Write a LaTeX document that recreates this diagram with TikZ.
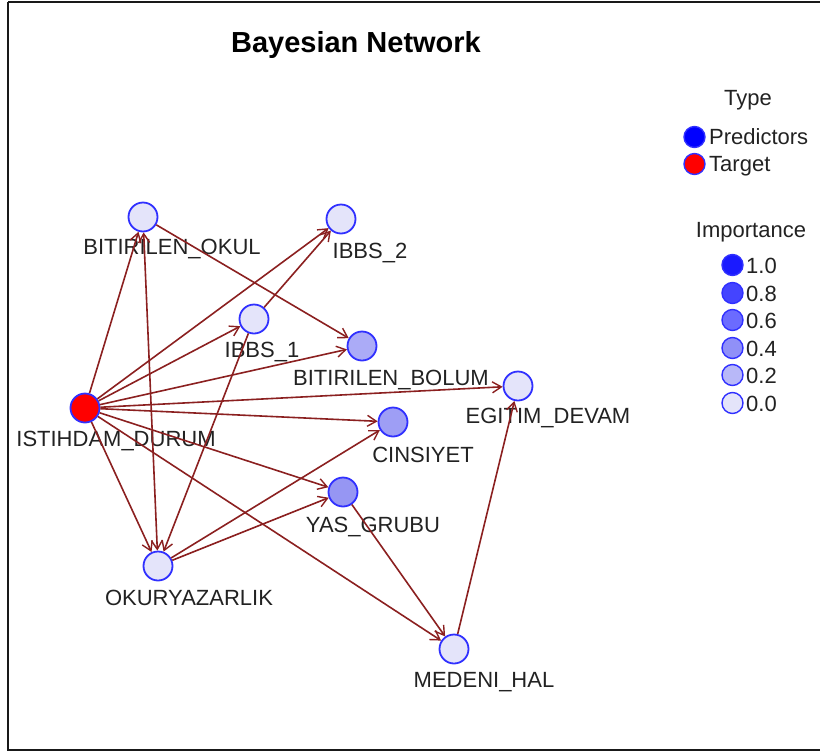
\documentclass[tikz,border=0pt]{standalone}
\usepackage{fontspec}
\setmainfont{Liberation Sans}
\usetikzlibrary{arrows.meta}
\definecolor{edgecol}{HTML}{8B2020}
\definecolor{nodeborder}{HTML}{3030FF}
\definecolor{imp0}{HTML}{E4E4FA}
\definecolor{imp2}{HTML}{B8B8F8}
\definecolor{imp4}{HTML}{9090F8}
\definecolor{imp6}{HTML}{6B6BFF}
\definecolor{imp8}{HTML}{4444FF}
\definecolor{imp10}{HTML}{1A1AFF}
\definecolor{txt}{HTML}{222222}
\begin{document}
\begin{tikzpicture}[x=1pt,y=-1pt,
  vnode/.style={circle,draw=nodeborder,line width=1.8pt,minimum size=29pt,inner sep=0pt},
  lnode/.style={circle,draw=nodeborder,line width=1.4pt,minimum size=21pt,inner sep=0pt},
  lbl/.style={text=txt,font=\fontsize{22}{26}\selectfont,inner sep=0pt,anchor=base},
  leg/.style={text=txt,font=\fontsize{22}{26}\selectfont,inner sep=0pt,anchor=base west},
  barb/.tip={Straight Barb[length=9pt,width=11pt,line width=1.4pt]},
  edge/.style={draw=edgecol,line width=1.6pt,-barb}]
\useasboundingbox (0,0) rectangle (820,753);
\draw[line width=2.5pt,draw=black!90] (8,2) -- (840,2);
\draw[line width=2.5pt,draw=black!90] (8,2) -- (8,750) -- (840,750);

\node[text=black,font=\bfseries\fontsize{29}{34}\selectfont,inner sep=0pt,anchor=base] (title) at (356,52) {Bayesian Network};

% nodes
\node[vnode,fill=imp0] (bokul) at (143,217) {};
\node[vnode,fill=imp0] (ibbs2) at (341,219) {};
\node[vnode,fill=imp0] (ibbs1) at (254,319) {};
\node[vnode,fill={rgb,255:red,171;green,171;blue,247}] (bbolum) at (362,346) {};
\node[vnode,fill=imp0] (egitim) at (518,386) {};
\node[vnode,fill=red] (ist) at (85,408) {};
\node[vnode,fill={rgb,255:red,158;green,158;blue,245}] (cins) at (393,422) {};
\node[vnode,fill={rgb,255:red,150;green,150;blue,243}] (yas) at (343,492) {};
\node[vnode,fill=imp0] (okur) at (158,566) {};
\node[vnode,fill=imp0] (medeni) at (454,649) {};

% labels
\node[lbl] (lbokul) at (172,254) {BITIRILEN\_OKUL};
\node[lbl] (libbs2) at (370,258) {IBBS\_2};
\node[lbl] (libbs1) at (262,357) {IBBS\_1};
\node[lbl] (lbbolum) at (391,385) {BITIRILEN\_BOLUM};
\node[lbl] (legitim) at (548,423) {EGITIM\_DEVAM};
\node[lbl] (list) at (116,446) {ISTIHDAM\_DURUM};
\node[lbl] (lcins) at (423,462) {CINSIYET};
\node[lbl] (lyas) at (373,532) {YAS\_GRUBU};
\node[lbl] (lokur) at (189,605) {OKURYAZARLIK};
\node[lbl] (lmedeni) at (484,687) {MEDENI\_HAL};

% edges
\draw[edge] (ist) -- (bokul);
\draw[edge] (ist) -- (ibbs2);
\draw[edge] (ist) -- (ibbs1);
\draw[edge] (ist) -- (bbolum);
\draw[edge] (ist) -- (egitim);
\draw[edge] (ist) -- (cins);
\draw[edge] (ist) -- (yas);
\draw[edge] (ist) -- (medeni);
\draw[edge] (ist) -- (okur);
\draw[edge,barb-barb] (bokul) -- (okur);
\draw[edge] (bokul) -- (bbolum);
\draw[edge] (ibbs1) -- (ibbs2);
\draw[edge] (ibbs1) -- (okur);
\draw[edge] (okur) -- (cins);
\draw[edge] (okur) -- (yas);
\draw[edge] (yas) -- (medeni);
\draw[edge] (medeni) -- (egitim);

% legend
\node[lbl] (ltype) at (748,105) {Type};
\node[lnode,fill=blue] (cpred) at (694.5,137) {};
\node[leg] (tpred) at (709,144) {Predictors};
\node[lnode,fill=red] (ctarg) at (694.5,164) {};
\node[leg] (ttarg) at (709,171) {Target};
\node[lbl] (limp) at (751,237) {Importance};
\node[lnode,fill=imp10] (c10) at (732.5,265) {};
\node[lnode,fill=imp8] (c8) at (732.5,293) {};
\node[lnode,fill=imp6] (c6) at (732.5,320) {};
\node[lnode,fill=imp4] (c4) at (732.5,348) {};
\node[lnode,fill=imp2] (c2) at (732.5,375) {};
\node[lnode,fill=imp0] (c0) at (732.5,403) {};
\node[leg] (t10) at (746,273) {1.0};
\node[leg] (t8) at (746,301) {0.8};
\node[leg] (t6) at (746,328) {0.6};
\node[leg] (t4) at (746,356) {0.4};
\node[leg] (t2) at (746,383) {0.2};
\node[leg] (t0) at (746,411) {0.0};
\end{tikzpicture}
\end{document}
